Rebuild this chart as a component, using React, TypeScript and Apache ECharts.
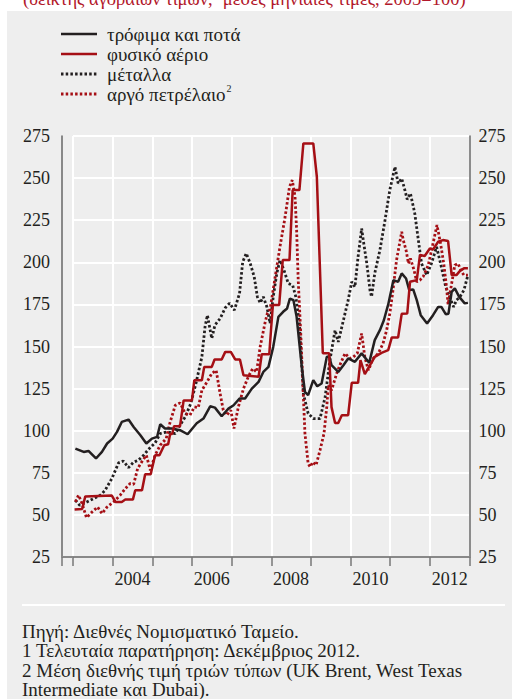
import React, { useEffect, useRef } from "react";
import * as echarts from "echarts";

// x = decimal year (mid-month), y = index value (2005 = 100)
const yearLabels = ["2003", "2004", "2005", "2006", "2007", "2008", "2009", "2010", "2011", "2012"];
const yTicks = { min: 25, max: 275, step: 25 };

const foodData: [number, number][] = [
  [2003.06, 89.4], [2003.27, 87.4], [2003.39, 88], [2003.58, 83.5], [2003.73, 87.4], [2003.86, 92.4],
  [2004.0, 95.3], [2004.11, 99.3], [2004.23, 105.2], [2004.4, 106.6], [2004.53, 102.2], [2004.7, 97.3],
  [2004.85, 92.4], [2004.99, 95.3], [2005.12, 96.3], [2005.2, 103.8], [2005.32, 101.3], [2005.49, 101.3],
  [2005.7, 100.3], [2005.89, 97.9], [2006.12, 104.4], [2006.29, 107.2], [2006.46, 114.5], [2006.58, 113.7],
  [2006.75, 108.6], [2006.92, 113.1], [2007.05, 115.1], [2007.2, 119.1], [2007.34, 119.1], [2007.51, 125],
  [2007.68, 129], [2007.8, 134.9], [2007.93, 137.9], [2008.05, 149.8], [2008.18, 167.6], [2008.3, 170.6],
  [2008.4, 172.6], [2008.47, 178.5], [2008.56, 177.5], [2008.64, 167.6], [2008.77, 137.9], [2008.85, 123],
  [2008.93, 121.1], [2009.06, 130], [2009.16, 126.4], [2009.27, 128], [2009.4, 143.8], [2009.46, 144.2],
  [2009.52, 138.9], [2009.69, 134.9], [2009.82, 138.9], [2009.94, 142.9], [2010.11, 140.9], [2010.28, 145.9],
  [2010.47, 140.3], [2010.61, 153.8], [2010.74, 159.7], [2010.84, 165.6], [2010.95, 175], [2011.08, 189.4],
  [2011.2, 188.4], [2011.29, 193.4], [2011.4, 190.4], [2011.48, 183.5], [2011.58, 183.9], [2011.67, 177.5],
  [2011.77, 168.6], [2011.93, 163.7], [2012.08, 168.6], [2012.21, 173.5], [2012.29, 173.5], [2012.4, 169.2],
  [2012.47, 169.5], [2012.55, 182.5], [2012.63, 184.5], [2012.74, 179.5], [2012.88, 175.6], [2012.96, 175.9],
];

const gasData: [number, number][] = [
  [2003.04, 53.2], [2003.23, 53.5], [2003.31, 61], [2003.98, 61.5], [2004.07, 57.7], [2004.23, 57.7],
  [2004.32, 59.1], [2004.51, 59.1], [2004.57, 64.6], [2004.74, 64.6], [2004.82, 74.1], [2004.96, 74.1],
  [2005.07, 85.4], [2005.18, 85.4], [2005.3, 91.4], [2005.4, 92], [2005.45, 98], [2005.5, 98],
  [2005.55, 102.7], [2005.7, 102.7], [2005.79, 118], [2006.0, 118], [2006.06, 130], [2006.25, 130],
  [2006.31, 137.9], [2006.5, 137.9], [2006.57, 142.3], [2006.75, 142.3], [2006.84, 146.8], [2006.98, 146.8],
  [2007.09, 142.3], [2007.21, 142.3], [2007.3, 132.9], [2007.68, 132], [2007.76, 145.4], [2007.95, 145.4],
  [2008.04, 174.6], [2008.2, 174.6], [2008.29, 201.3], [2008.46, 201.3], [2008.54, 242.9], [2008.71, 242.9],
  [2008.81, 270.6], [2009.06, 270.6], [2009.15, 250.8], [2009.3, 146], [2009.46, 146], [2009.52, 114],
  [2009.61, 104.6], [2009.69, 104.6], [2009.78, 109.2], [2009.94, 109.2], [2010.03, 128.4], [2010.19, 128.4],
  [2010.25, 141.9], [2010.36, 133.6], [2010.49, 138.9], [2010.61, 143.8], [2010.78, 146.2], [2010.95, 147.8],
  [2011.04, 155.4], [2011.2, 155.4], [2011.29, 169.4], [2011.43, 169.6], [2011.5, 188.4], [2011.67, 189.4],
  [2011.75, 204.3], [2011.87, 203.7], [2012.0, 208.2], [2012.08, 207.6], [2012.21, 212.2], [2012.33, 213.2],
  [2012.46, 212.6], [2012.55, 192.4], [2012.67, 192.4], [2012.76, 194.9], [2012.86, 196.4], [2012.96, 196.4],
];

const metalsData: [number, number][] = [
  [2003.06, 58.7], [2003.17, 55.7], [2003.35, 57.7], [2003.52, 59.7], [2003.69, 61.7], [2003.81, 64.6],
  [2003.98, 71.6], [2004.15, 80.9], [2004.27, 82], [2004.4, 78.1], [2004.53, 81.4], [2004.65, 82.5],
  [2004.78, 85.4], [2004.9, 88.8], [2005.07, 92.7], [2005.2, 98.3], [2005.38, 99.3], [2005.58, 98.3],
  [2005.7, 103.3], [2005.83, 108.2], [2005.97, 116.1], [2006.1, 128], [2006.25, 143.8], [2006.33, 161.7],
  [2006.39, 168.6], [2006.46, 159.7], [2006.5, 154.8], [2006.58, 162.7], [2006.71, 166.6], [2006.84, 173],
  [2006.95, 175.7], [2007.07, 171.6], [2007.2, 181.5], [2007.28, 200.3], [2007.37, 205.3], [2007.47, 199.3],
  [2007.57, 191.4], [2007.65, 179.5], [2007.72, 175.9], [2007.8, 179.5], [2007.89, 173.5], [2007.97, 163.7],
  [2008.05, 179.5], [2008.14, 193.4], [2008.22, 201.3], [2008.32, 195.4], [2008.43, 187.4], [2008.54, 186.4],
  [2008.62, 179.5], [2008.71, 163.7], [2008.81, 122.1], [2008.93, 110.2], [2009.06, 107.2], [2009.23, 107.2],
  [2009.36, 120.1], [2009.48, 141.9], [2009.61, 159.7], [2009.69, 152.7], [2009.82, 165.6], [2009.94, 177.5],
  [2010.03, 188.4], [2010.11, 185.4], [2010.19, 203.3], [2010.28, 220.1], [2010.32, 213.2], [2010.41, 199.3],
  [2010.49, 183.5], [2010.53, 179.5], [2010.61, 193.4], [2010.74, 207.2], [2010.87, 225.1], [2010.99, 242.9],
  [2011.12, 256.7], [2011.2, 246.9], [2011.29, 249.8], [2011.37, 242.9], [2011.43, 237.3], [2011.51, 240.9],
  [2011.62, 229], [2011.71, 213.2], [2011.79, 199.3], [2011.92, 192.4], [2012.04, 199.3], [2012.17, 209.2],
  [2012.29, 197.3], [2012.4, 185.4], [2012.5, 179.5], [2012.6, 173.5], [2012.67, 177.5], [2012.76, 179.5],
  [2012.86, 183.5], [2012.96, 192.4],
];

const oilData: [number, number][] = [
  [2003.06, 57.7], [2003.14, 61.7], [2003.23, 56.7], [2003.34, 48.4], [2003.48, 51.7], [2003.62, 54.7],
  [2003.73, 50.8], [2003.86, 54.7], [2004.02, 57.7], [2004.19, 61.7], [2004.32, 65.6], [2004.44, 68.6],
  [2004.53, 68.2], [2004.63, 77.5], [2004.76, 82.5], [2004.85, 85.4], [2004.95, 76.5], [2005.07, 85.4],
  [2005.2, 91.4], [2005.35, 95.3], [2005.45, 105.2], [2005.58, 115.1], [2005.7, 116.5], [2005.83, 110.2],
  [2005.95, 109.2], [2006.06, 114.1], [2006.16, 113.7], [2006.25, 124], [2006.38, 129], [2006.5, 134],
  [2006.61, 135.9], [2006.71, 122.1], [2006.79, 112.2], [2006.88, 109.2], [2006.98, 112.2], [2007.06, 101.3],
  [2007.17, 114.1], [2007.3, 125], [2007.42, 132], [2007.53, 136.9], [2007.63, 134.9], [2007.72, 149.8],
  [2007.84, 163.7], [2007.9, 169.6], [2007.97, 172], [2008.1, 191.4], [2008.22, 209.2], [2008.35, 227],
  [2008.46, 244.8], [2008.53, 248.8], [2008.6, 238.9], [2008.64, 219.1], [2008.68, 189.4], [2008.74, 159.7],
  [2008.85, 98.3], [2008.93, 80.5], [2008.98, 78.5], [2009.05, 81.4], [2009.13, 79.5], [2009.23, 88.4],
  [2009.33, 98.3], [2009.4, 114.1], [2009.44, 127], [2009.52, 124], [2009.65, 134], [2009.73, 138.9],
  [2009.86, 145.9], [2009.98, 142.9], [2010.07, 143.8], [2010.17, 145.9], [2010.28, 157.7], [2010.36, 143.8],
  [2010.45, 135.9], [2010.57, 142.9], [2010.7, 145.9], [2010.82, 151.8], [2010.91, 159.7], [2010.99, 169.6],
  [2011.06, 181.5], [2011.16, 201.3], [2011.29, 218.1], [2011.33, 213.2], [2011.4, 207.2], [2011.46, 199.3],
  [2011.51, 202.3], [2011.6, 195.4], [2011.67, 188.4], [2011.75, 189.4], [2011.83, 191.4], [2011.96, 198.3],
  [2012.08, 211.2], [2012.18, 222.1], [2012.27, 211.2], [2012.35, 199.3], [2012.42, 185.4], [2012.46, 175],
  [2012.55, 187.4], [2012.63, 198.3], [2012.71, 199.3], [2012.8, 194.4], [2012.86, 192.4], [2012.96, 192.4],
];

const seriesNames = ["τρόφιμα και ποτά", "φυσικό αέριο", "μέταλλα", "αργό πετρέλαιο"];
const titleText = "(δείκτης αγοραίων τιμών,¹ μέσες μηνιαίες τιμές, 2005=100)";
const footnotes = [
  "Πηγή: Διεθνές Νομισματικό Ταμείο.",
  "1 Τελευταία παρατήρηση: Δεκέμβριος 2012.",
  "2 Μέση διεθνής τιμή τριών τύπων (UK Brent, West Texas",
  "Intermediate και Dubai).",
];

const BLACK = "#231f20";
const RED = "#a50f15";
const SERIF = "Liberation Serif";

export default function App() {
  const ref = useRef<HTMLDivElement>(null);
  useEffect(() => {
    if (!ref.current) return;
    const chart = echarts.init(ref.current, undefined, { renderer: "svg" });
    const DOT = [2.5, 2.2];
    const legendRows = [
      { name: seriesNames[0], color: BLACK, dash: null as number[] | null, sup: false },
      { name: seriesNames[1], color: RED, dash: null, sup: false },
      { name: seriesNames[2], color: BLACK, dash: DOT, sup: false },
      { name: seriesNames[3], color: RED, dash: DOT, sup: true },
    ];
    const txt = (size: number, fill: string) => ({ fontFamily: SERIF, fontSize: size, fill });
    const graphics: any[] = [
      { type: "rect", z: -10, shape: { x: 7, y: 11, width: 505, height: 688 }, style: { fill: "#eeeeee" }, silent: true },
      {
        type: "text", x: 23, y: -1, z: 5,
        style: { text: titleText, ...txt(18.5, "#b2182b"), verticalAlign: "middle" },
      },
      { type: "line", z: 5, shape: { x1: 62, y1: 557, x2: 73, y2: 557 }, style: { stroke: "#888", lineWidth: 2 } },
      { type: "line", z: 5, shape: { x1: 62, y1: 557, x2: 62, y2: 566 }, style: { stroke: "#777", lineWidth: 1.5 } },
      { type: "line", z: 5, shape: { x1: 22, y1: 605, x2: 505, y2: 605 }, style: { stroke: "#ffffff", lineWidth: 2 } },
    ];
    legendRows.forEach((r, i) => {
      const y = 34 + i * 20;
      graphics.push({
        type: "line", z: 5, shape: { x1: 61, y1: y, x2: 97, y2: y },
        style: { stroke: r.color, lineWidth: r.dash ? 2.8 : 2.5, lineDash: r.dash || undefined },
      });
      graphics.push({
        type: "text", x: 107, y, z: 5,
        style: {
          text: r.sup ? `{n|${r.name}}{s|2}` : `{n|${r.name}}`,
          verticalAlign: "middle",
          rich: {
            n: { fontFamily: SERIF, fontSize: 19, fill: BLACK },
            s: { fontFamily: SERIF, fontSize: 10, fill: BLACK, padding: [0, 0, 11, 1] },
          },
        },
      });
    });
    footnotes.forEach((t, i) => {
      graphics.push({
        type: "text", x: 22, y: 631.5 + i * 19.3, z: 5,
        style: { text: t, ...txt(19, BLACK), verticalAlign: "middle" },
      });
    });

    const yAxisCommon = {
      type: "value" as const,
      min: yTicks.min,
      max: yTicks.max,
      interval: yTicks.step,
      axisTick: { show: false },
      axisLabel: { color: BLACK, fontFamily: SERIF, fontSize: 18 },
    };

    const lineSeries = (name: string, data: [number, number][], color: string, dotted: boolean, z: number) => ({
      name,
      type: "line" as const,
      data,
      xAxisIndex: 0,
      yAxisIndex: 0,
      symbol: "none",
      showSymbol: false,
      z,
      lineStyle: { color, width: dotted ? 2.8 : 2.5, type: dotted ? DOT : "solid", cap: "butt" },
      itemStyle: { color },
    });

    chart.setOption({
      animation: false,
      backgroundColor: "#ffffff",
      textStyle: { fontFamily: SERIF },
      grid: { left: 73, right: 42.5, top: 136, bottom: 142, containLabel: false },
      xAxis: [
        {
          type: "value", min: 2003, max: 2013, interval: 1,
          axisLabel: { show: false },
          axisLine: { show: true, lineStyle: { color: "#888", width: 2 } },
          axisTick: { show: true, length: 9, lineStyle: { color: "#777", width: 1.5 } },
          splitLine: { show: true, lineStyle: { color: "#ffffff", width: 2 } },
        },
        {
          type: "category", data: yearLabels, position: "bottom", boundaryGap: true,
          axisLine: { show: false }, axisTick: { show: false }, splitLine: { show: false },
          axisLabel: {
            color: BLACK, fontFamily: SERIF, fontSize: 18, margin: 13,
            interval: (index: number) => index % 2 === 1,
          },
        },
      ],
      yAxis: [
        {
          ...yAxisCommon, position: "left", offset: 11,
          axisLine: { show: true, lineStyle: { color: "#666", width: 1.5 } },
          axisLabel: { ...yAxisCommon.axisLabel, margin: 12 },
          splitLine: { show: true, lineStyle: { color: "#ffffff", width: 2 } },
        },
        {
          ...yAxisCommon, position: "right",
          axisLine: { show: true, lineStyle: { color: "#666", width: 1.5 } },
          axisLabel: { ...yAxisCommon.axisLabel, margin: 9 },
          splitLine: { show: false },
        },
      ],
      series: [
        lineSeries(seriesNames[2], metalsData, BLACK, true, 2),
        lineSeries(seriesNames[3], oilData, RED, true, 3),
        lineSeries(seriesNames[0], foodData, BLACK, false, 4),
        lineSeries(seriesNames[1], gasData, RED, false, 5),
      ],
      graphic: graphics,
    });
    return () => chart.dispose();
  }, []);
  return <div ref={ref} style={{ position: "fixed", left: 0, top: 0, width: 512, height: 699 }} />;
}
